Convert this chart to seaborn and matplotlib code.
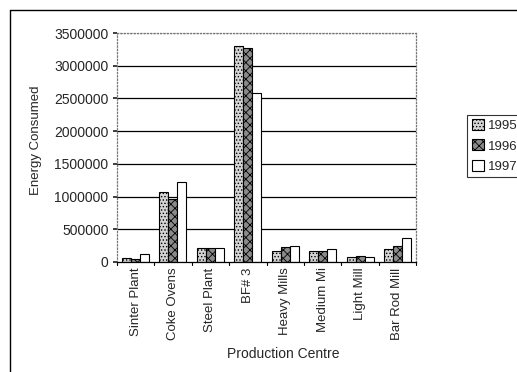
import matplotlib
matplotlib.use("Agg")
import matplotlib.pyplot as plt
from matplotlib.lines import Line2D
import seaborn as sns
import pandas as pd

sns.set_theme(style="white")
plt.rcParams["font.family"] = ["Liberation Sans", "DejaVu Sans"]
plt.rcParams["hatch.linewidth"] = 0.6

centres = ["Sinter Plant", "Coke Ovens", "Steel Plant", "BF# 3",
           "Heavy Mills", "Medium Mi", "Light Mill", "Bar Rod Mill"]
years = ["1995", "1996", "1997"]
energy_1995 = [60000, 1070000, 220000, 3310000, 172000, 172000, 70000, 200000]
energy_1996 = [45000, 960000, 215000, 3270000, 222000, 170000, 90000, 250000]
energy_1997 = [125000, 1220000, 205000, 2585000, 244000, 192000, 70000, 365000]

df = pd.DataFrame({
    "Production Centre": centres * 3,
    "Year": [y for y in years for _ in centres],
    "Energy": energy_1995 + energy_1996 + energy_1997,
})

fig = plt.figure(figsize=(5.17, 3.72), dpi=100)
ax = fig.add_axes([0.226, 0.296, 0.579, 0.615])

sns.barplot(data=df, x="Production Centre", y="Energy", hue="Year",
            order=centres, hue_order=years, width=0.72, ax=ax,
            errorbar=None, legend=False)

styles = [
    dict(facecolor="#d4d4d4", hatch="....."),
    dict(facecolor="#8a8a8a", hatch="xxxx"),
    dict(facecolor="white", hatch=None),
]
for container, st in zip(ax.containers, styles):
    for bar in container:
        bar.set_facecolor(st["facecolor"])
        bar.set_edgecolor("black")
        bar.set_linewidth(0.8)
        if st["hatch"]:
            bar.set_hatch(st["hatch"])

ax.set_ylim(0, 3500000)
ax.set_yticks(range(0, 3500001, 500000))
ax.set_yticklabels([str(v) for v in range(0, 3500001, 500000)], fontsize=10)
ax.set_xlim(-0.5, len(centres) - 0.5)
ax.set_xticks(range(len(centres)))
ax.set_xticklabels(centres, rotation=90, fontsize=9.5)
ax.tick_params(axis="x", length=0, pad=4)
ax.tick_params(axis="y", length=3, direction="out", left=True, pad=3)

for v in range(500000, 3500001, 500000):
    ax.axhline(v, color="black", linewidth=0.9, zorder=0,
               linestyle=":" if v == 3500000 else "-")
for i in range(len(centres) + 1):
    ax.plot([i - 0.5, i - 0.5], [0, -45000], color="black", lw=0.8,
            clip_on=False)

for side in ["top", "right", "left"]:
    ax.spines[side].set_color("#777777")
    ax.spines[side].set_linestyle(":")
    ax.spines[side].set_linewidth(0.9)
ax.spines["bottom"].set_color("black")
ax.spines["bottom"].set_linewidth(0.9)

ax.set_xlabel("Production Centre", fontsize=10)
ax.xaxis.set_label_coords(0.555, -0.37)
ax.set_ylabel("Energy Consumed", fontsize=9.5)
ax.yaxis.set_label_coords(-0.25, 0.53)

handles = [plt.Rectangle((0, 0), 1, 1, facecolor=st["facecolor"],
                         edgecolor="black", linewidth=0.8,
                         hatch=st["hatch"]) for st in styles]
leg = fig.legend(handles, years, loc="upper left",
                 bbox_to_anchor=(0.904, 0.692), borderaxespad=0,
                 fontsize=9.5, frameon=True, fancybox=False,
                 edgecolor="black", handlelength=0.9, handleheight=0.9,
                 handletextpad=0.3, labelspacing=0.55, borderpad=0.35)
leg.get_frame().set_linewidth(0.8)

# outer chart frame
fig.add_artist(Line2D([10 / 517, 1], [1 - 10 / 372] * 2, color="black",
                      lw=1.0, transform=fig.transFigure))
fig.add_artist(Line2D([10 / 517] * 2, [0, 1 - 10 / 372], color="black",
                      lw=1.0, transform=fig.transFigure))

fig.savefig("out.png", dpi=100)
